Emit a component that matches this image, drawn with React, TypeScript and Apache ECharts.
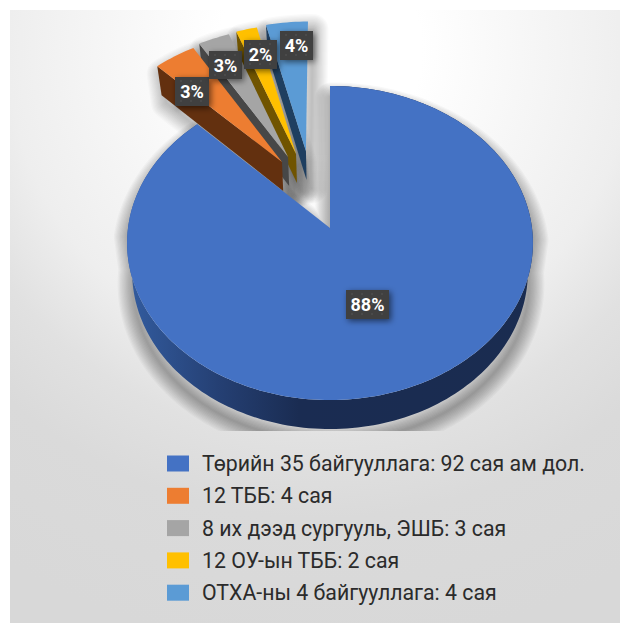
import React, { useEffect, useRef } from "react";
import * as echarts from "echarts";

const categories = [
  "Төрийн 35 байгууллага: 92 сая ам дол.",
  "12 ТББ: 4 сая",
  "8 их дээд сургууль, ЭШБ: 3 сая",
  "12 ОУ-ын ТББ: 2 сая",
  "ОТХА-ны 4 байгууллага: 4 сая",
];
const values = [92, 4, 3, 2, 4];
const percentLabels = ["88%", "3%", "3%", "2%", "4%"];
const topColors = ["#4472c4", "#ed7d31", "#a5a5a5", "#ffc000", "#5b9bd5"];
const wallColors = ["#1a2c52", "#63300f", "#474747", "#705400", "#1f3f60"];

// Layout of the tilted, exploded pie
const CX = 330;
const CY = 228;
const RX = 202;
const RY = 155.6;
const PERSP = 0.0956;
const DEPTH = 29;
const LID_SCALE = 0.975;
const HALO_LAYERS = 13;
const HALO_STEP = 2.4;
const explodeUV = [
  [0, 0],
  [-0.2477, 0.4424],
  [-0.217, 0.477],
  [-0.176, 0.4985],
  [-0.125, 0.5194],
];
const labelCenters = [
  [367.5, 304.5],
  [192, 91.5],
  [225.5, 65],
  [260.5, 54.5],
  [296.5, 45.5],
];
const labelSizes = [
  [43, 29],
  [34, 29],
  [33, 28],
  [33, 29],
  [33, 29],
];

function project(u: number, v: number): [number, number] {
  const w = 1 + PERSP * v;
  return [CX + (RX * u) / w, CY - (RY * v) / w];
}

function makeRenderItem(index: number) {
  const total = values.reduce((a, b) => a + b, 0);
  const before = values.slice(0, index).reduce((a, b) => a + b, 0);
  return (_params: any, api: any) => {
    const value = api.value(0);
    const a0 = (before / total) * Math.PI * 2;
    const a1 = ((before + value) / total) * Math.PI * 2;
    const [du, dv] = explodeUV[index];
    const apex = project(du, dv);
    const n = Math.max(8, Math.ceil((a1 - a0) * 40));
    const arc: [number, number][] = [];
    const angles: number[] = [];
    for (let i = 0; i <= n; i++) {
      const t = a0 + ((a1 - a0) * i) / n;
      angles.push(t);
      arc.push(project(du + Math.sin(t), dv + Math.cos(t)));
    }
    const face = [apex, ...arc];
    const down = (p: number[]) => [CX + (p[0] - CX) * LID_SCALE, p[1] + DEPTH];
    const base = (5 - index) * 10;

    // Soft shadow: stacked translucent outlines of the slice's silhouette
    const silhouette =
      index === 0
        ? [apex, ...arc.map((p, i) => (Math.cos(angles[i]) < 0 ? down(p) : p))]
        : [down(apex), down(arc[0]), ...arc, apex];
    const children: any[] = [];
    for (let k = 1; k <= HALO_LAYERS; k++) {
      children.push({
        type: "polygon",
        z2: 1,
        silent: true,
        x: index === 0 ? 1 : 5,
        y: index === 0 ? 12 : 8,
        shape: { points: silhouette },
        style: {
          fill: "none",
          stroke: "#000000",
          lineWidth: k * HALO_STEP,
          lineJoin: "round",
          opacity: index === 0 ? 0.028 : 0.02,
        },
      });
    }

    if (index === 0) {
      const wall = [...arc, ...arc.map(down).reverse()];
      children.push({
        type: "polygon",
        z2: base,
        silent: true,
        shape: { points: wall },
        style: {
          fill: {
            type: "linear",
            global: true,
            x: 128,
            y: 0,
            x2: 535,
            y2: 0,
            colorStops: [
              { offset: 0, color: "#335c9f" },
              { offset: 0.22, color: "#254074" },
              { offset: 0.42, color: "#1a2c52" },
              { offset: 1, color: "#1a2c50" },
            ],
          },
        },
      });
    } else {
      const corner = arc[0];
      const wall = [apex, corner, down(corner), down(apex)];
      children.push({
        type: "polygon",
        z2: base,
        silent: true,
        shape: { points: wall },
        style: { fill: wallColors[index] },
      });
    }
    children.push({
      type: "polygon",
      z2: base + 1,
      silent: true,
      shape: { points: face },
      style: { fill: topColors[index] },
    });

    const [lx, ly] = labelCenters[index];
    const [lw, lh] = labelSizes[index];
    children.push({
      type: "rect",
      z2: 100 + index,
      silent: true,
      shape: { x: lx - lw / 2, y: ly - lh / 2, width: lw, height: lh },
      style: {
        fill: "#3f3f3f",
        shadowBlur: 6,
        shadowColor: "rgba(0,0,0,0.55)",
        shadowOffsetX: 2,
        shadowOffsetY: 2,
      },
    });
    for (let gx = lx - lw / 2 + 5; gx < lx + lw / 2 - 1; gx += 10) {
      for (let gy = ly - lh / 2 + 3; gy < ly + lh / 2 - 1; gy += 10) {
        children.push({
          type: "rect",
          z2: 101 + index,
          silent: true,
          shape: { x: gx, y: gy, width: 2, height: 2 },
          style: { fill: "#4a4a4a" },
        });
      }
    }
    children.push({
      type: "text",
      z2: 102 + index,
      silent: true,
      style: {
        x: lx,
        y: ly,
        text: percentLabels[index],
        fill: "#ffffff",
        font: "700 18px Roboto",
        align: "center",
        verticalAlign: "middle",
      },
    });
    return { type: "group", children };
  };
}

export default function App() {
  const ref = useRef<HTMLDivElement>(null);
  useEffect(() => {
    const chart = echarts.init(ref.current as HTMLDivElement, undefined, { renderer: "svg" });
    const bgFill = {
      type: "radial",
      global: true,
      x: 320,
      y: 50,
      r: 600,
      colorStops: [
        { offset: 0, color: "#ffffff" },
        { offset: 0.17, color: "#ffffff" },
        { offset: 0.52, color: "#eeeeee" },
        { offset: 0.65, color: "#e1e1e1" },
        { offset: 0.78, color: "#dadada" },
        { offset: 1, color: "#d8d8d8" },
      ],
    };
    chart.setOption({
      animation: false,
      graphic: [
        {
          type: "rect",
          z: 0,
          silent: true,
          shape: { x: 10, y: 10, width: 610, height: 613 },
          style: { fill: bgFill },
        },
        {
          type: "rect",
          z: 3,
          silent: true,
          shape: { x: 10, y: 431, width: 610, height: 192 },
          style: { fill: bgFill },
        },
      ],
      legend: {
        orient: "vertical",
        left: 167,
        top: 453,
        padding: 0,
        z: 5,
        icon: "rect",
        itemWidth: 22,
        itemHeight: 16,
        itemGap: 11.3,
        data: categories,
        selectedMode: false,
        textStyle: {
          fontFamily: "Roboto",
          fontSize: 21.3,
          color: "#2b2b2b",
          padding: [0, 0, 0, 8],
        },
      },
      series: categories.map((name, i) => ({
        type: "custom",
        name,
        coordinateSystem: "none",
        z: 2,
        silent: true,
        itemStyle: { color: topColors[i] },
        renderItem: makeRenderItem(i),
        data: [[values[i]]],
      })),
    });
    return () => chart.dispose();
  }, []);
  return <div ref={ref} style={{ position: "absolute", left: 0, top: 0, width: 620, height: 623 }} />;
}
